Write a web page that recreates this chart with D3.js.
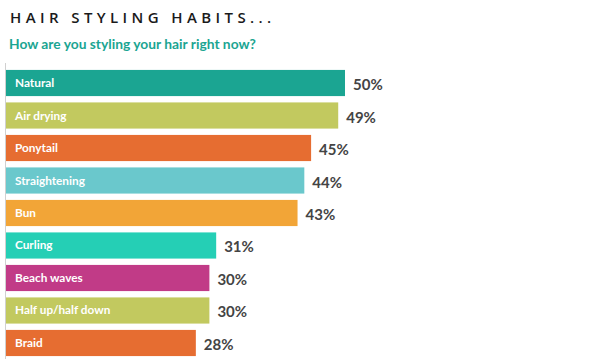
<!DOCTYPE html>
<html><head><meta charset="utf-8">
<script src="https://cdn.jsdelivr.net/npm/d3@7"></script>
<style>body{margin:0;background:#fff;}svg{display:block;}</style>
</head><body>
<svg id="chart" width="597" height="364"></svg>
<script>
const categories = ["Natural","Air drying","Ponytail","Straightening","Bun","Curling","Beach waves","Half up/half down","Braid"];
const values = [50,49,45,44,43,31,30,30,28];
const colors = ["#1ba592","#c2c95f","#e66d31","#6ac8cc","#f2a537","#25cfb5","#c13b87","#c2c95f","#e66d31"];
const title = "HAIR STYLING HABITS...";
const subtitle = "How are you styling your hair right now?";

const svg = d3.select("#chart");
const font = "'Open Sans', 'Noto Sans', sans-serif";
const font2 = "Lato, 'Open Sans', sans-serif";

svg.append("text").attr("x",10).attr("y",23).text(title)
  .attr("font-family",font).attr("font-weight",600).attr("font-size",15)
  .attr("letter-spacing",4.4).attr("fill","#1a1a1a");
svg.append("text").attr("x",9).attr("y",49).text(subtitle)
  .attr("font-family",font2).attr("font-weight",700).attr("font-size",13.8)
  .attr("fill","#1ba592");

const x = d3.scaleLinear().domain([0,50]).range([6,345]);
const y = d3.scaleBand().domain(categories).range([67,359]).paddingInner(0.195).paddingOuter(0.09);

svg.append("line").attr("x1",5.5).attr("x2",5.5).attr("y1",63).attr("y2",359)
  .attr("stroke","#d0d0d0").attr("stroke-width",1);

const g = svg.append("g");
categories.forEach((c,i)=>{
  g.append("rect").attr("x",x(0)).attr("y",y(c)).attr("width",x(values[i])-x(0)).attr("height",y.bandwidth())
    .attr("fill",colors[i]);
  g.append("text").attr("x",15).attr("y",y(c)+y.bandwidth()/2+4).text(c)
    .attr("font-family",font2).attr("font-weight",700).attr("font-size",11.8).attr("fill","#fff");
  g.append("text").attr("x",x(values[i])+8).attr("y",y(c)+y.bandwidth()/2+7).text(values[i]+"%")
    .attr("font-family",font2).attr("font-weight",700).attr("font-size",15).attr("fill","#444");
});
</script>
</body></html>
